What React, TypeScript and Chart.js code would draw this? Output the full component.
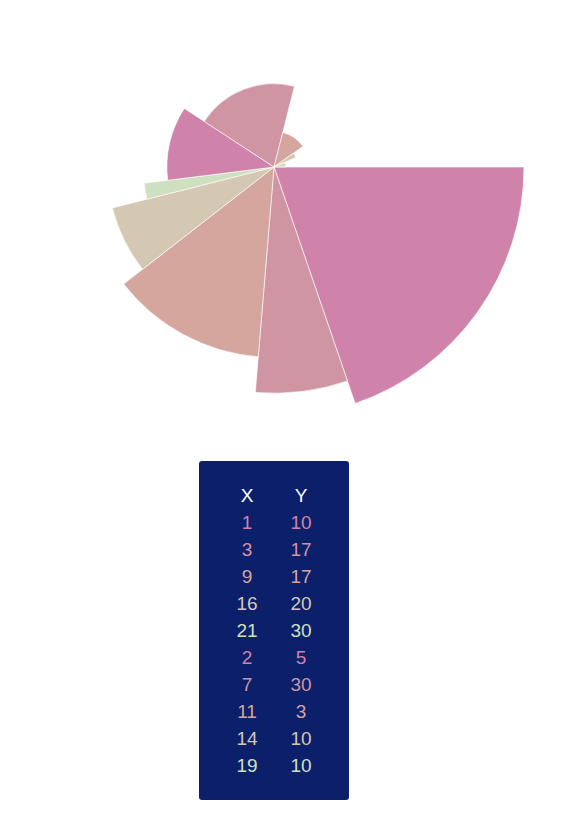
import React, { useEffect, useRef } from "react";
import { Chart, registerables } from "chart.js";

Chart.register(...registerables);

const xValues = [1, 3, 9, 16, 21, 2, 7, 11, 14, 19];
const yValues = [10, 17, 17, 20, 30, 5, 30, 3, 10, 10];
const palette = ["#cf83ab", "#cf95a2", "#d4a69e", "#d4c8b2", "#cfe0c0"];

export default function App() {
  const canvasRef = useRef<HTMLCanvasElement | null>(null);

  useEffect(() => {
    if (!canvasRef.current) return;
    const order = xValues.map((_, i) => i).sort((a, b) => xValues[b] - xValues[a]);
    const rVals = order.map((i) => xValues[i]);
    const aVals = order.map((i) => yValues[i]);
    const sumY = aVals.reduce((s, v) => s + v, 0);
    const maxX = Math.max(...xValues);
    const chart = new Chart(canvasRef.current, {
      type: "polarArea",
      data: {
        labels: rVals.map((v) => String(v)),
        datasets: [
          {
            data: rVals,
            backgroundColor: rVals.map((_, i) => palette[i % palette.length]),
            borderColor: "rgba(255,255,255,0.6)",
            borderWidth: 1,
            angle: (ctx: any) => (aVals[ctx.dataIndex] / sumY) * 360,
          } as any,
        ],
      },
      options: {
        responsive: false,
        animation: false,
        plugins: { legend: { display: false }, tooltip: { enabled: false } },
        scales: {
          r: {
            min: 0,
            max: maxX,
            startAngle: 90,
            grid: { display: false },
            angleLines: { display: false },
            ticks: { display: false },
            pointLabels: { display: false },
            afterFit: (scale: any) => {
              scale.xCenter = 266;
              scale.yCenter = 159;
              scale.drawingArea = 250;
            },
          } as any,
        },
      },
    });
    return () => chart.destroy();
  }, []);

  return (
    <div style={{ position: "relative", width: 548, height: 800 }}>
      <canvas ref={canvasRef} width={548} height={440} style={{ display: "block" }} />
      <div
        style={{
          position: "absolute",
          left: 191,
          top: 453,
          width: 150,
          height: 339,
          background: "#0b1f6b",
          borderRadius: 3,
          boxSizing: "border-box",
          padding: "21px 21px 0 21px",
          fontFamily: "'Liberation Sans', Arial, sans-serif",
          fontSize: 19,
        }}
      >
        <div style={{ display: "flex", height: 27, lineHeight: "27px", color: "#ffffff" }}>
          <div style={{ width: 54, textAlign: "center" }}>X</div>
          <div style={{ width: 54, textAlign: "center" }}>Y</div>
        </div>
        {xValues.map((x, i) => (
          <div
            key={i}
            style={{
              display: "flex",
              height: 27,
              lineHeight: "27px",
              color: palette[i % palette.length],
            }}
          >
            <div style={{ width: 54, textAlign: "center" }}>{x}</div>
            <div style={{ width: 54, textAlign: "center" }}>{yValues[i]}</div>
          </div>
        ))}
      </div>
    </div>
  );
}
